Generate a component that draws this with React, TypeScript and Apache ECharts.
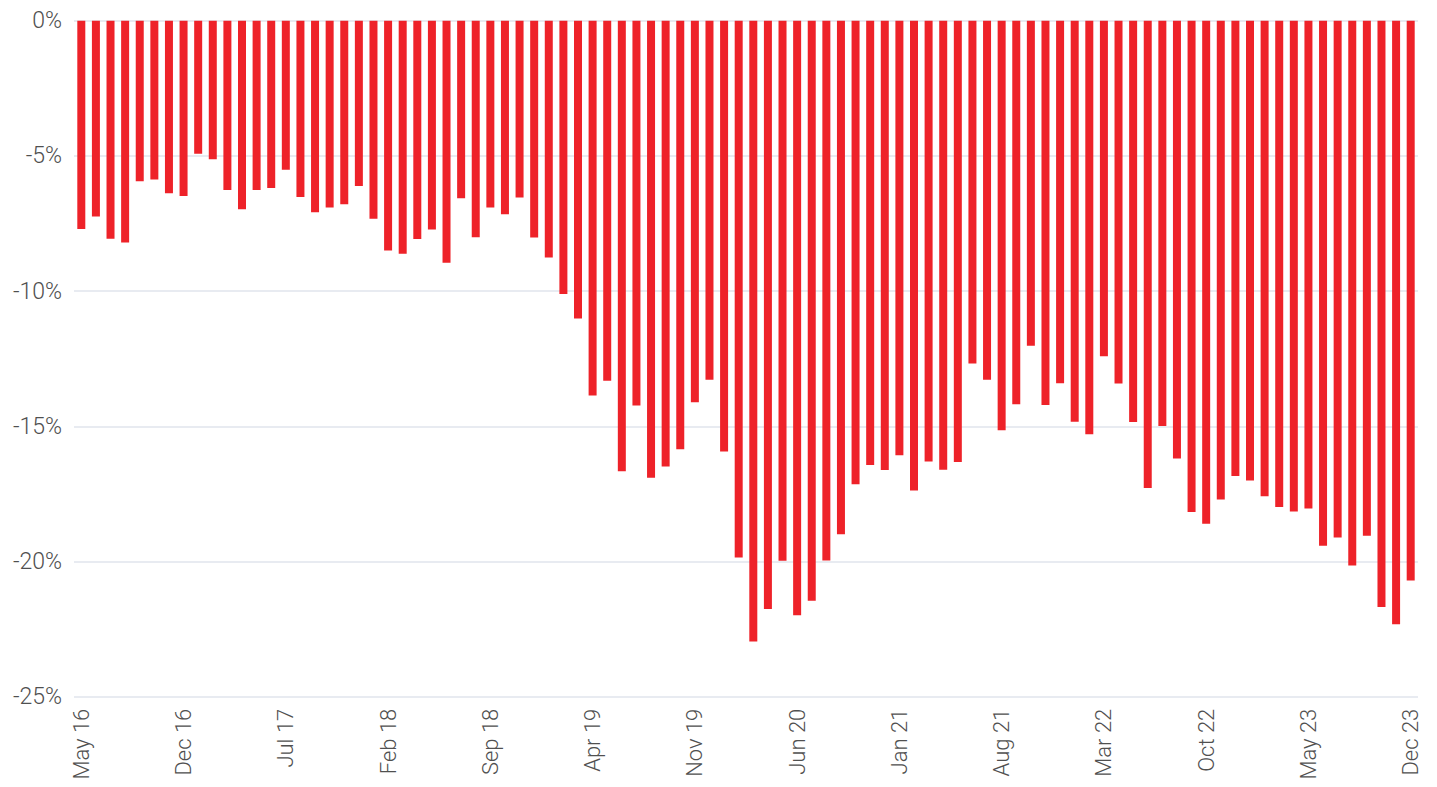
import React, { useEffect, useRef } from "react";
import * as echarts from "echarts";

const months = ["Jan", "Feb", "Mar", "Apr", "May", "Jun", "Jul", "Aug", "Sep", "Oct", "Nov", "Dec"];
const categories: string[] = [];
for (let y = 2016; y <= 2023; y++) {
  for (let m = 0; m < 12; m++) {
    if (y === 2016 && m < 4) continue;
    categories.push(`${months[m]} ${String(y).slice(2)}`);
  }
}

const values = [
  -7.70, -7.24, -8.06, -8.20, -5.94, -5.87, -6.38, -6.48, -4.92, -5.12,
  -6.26, -6.97, -6.26, -6.19, -5.51, -6.52, -7.08, -6.91, -6.79, -6.11,
  -7.32, -8.50, -8.62, -8.07, -7.72, -8.95, -6.57, -8.01, -6.91, -7.16,
  -6.54, -8.02, -8.76, -10.11, -11.01, -13.86, -13.32, -16.66, -14.23, -16.90,
  -16.49, -15.85, -14.11, -13.28, -15.93, -19.85, -22.96, -21.76, -19.97, -21.99,
  -21.45, -19.96, -18.99, -17.14, -16.43, -16.62, -16.07, -17.37, -16.30, -16.61,
  -16.32, -12.68, -13.28, -15.15, -14.18, -12.02, -14.21, -13.41, -14.83, -15.29,
  -12.41, -13.42, -14.84, -17.28, -14.99, -16.19, -18.17, -18.60, -17.71, -16.84,
  -17.00, -17.59, -17.98, -18.15, -18.04, -19.42, -19.11, -20.15, -19.05, -21.68,
  -22.32, -20.70,
];

const yTicks = [0, -5, -10, -15, -20, -25];

export default function App() {
  const ref = useRef<HTMLDivElement>(null);
  useEffect(() => {
    if (!ref.current) return;
    const chart = echarts.init(ref.current, undefined, { renderer: "svg" });
    chart.setOption({
      animation: false,
      grid: { left: 74, right: 19, top: 20.7, bottom: 90.3, containLabel: false },
      xAxis: {
        type: "category",
        data: categories,
        boundaryGap: true,
        position: "bottom",
        axisLine: { show: false, onZero: false },
        axisTick: { show: false },
        axisLabel: {
          interval: 6,
          rotate: 90,
          margin: 12,
          color: "#505050",
          fontFamily: "Roboto",
          fontWeight: 300,
          fontSize: 22,
        },
        splitLine: { show: false },
      },
      yAxis: {
        type: "value",
        min: yTicks[yTicks.length - 1],
        max: yTicks[0],
        interval: 5,
        axisLine: { show: false },
        axisTick: { show: false },
        axisLabel: {
          formatter: (v: number) => `${v}%`,
          color: "#505050",
          fontFamily: "Roboto",
          fontWeight: 300,
          fontSize: 23,
          margin: 12,
        },
        splitLine: { show: true, lineStyle: { color: "#E1E5EC", width: 1.5 } },
      },
      series: [
        {
          type: "bar",
          data: values,
          barWidth: 8,
          itemStyle: { color: "#EE2229" },
        },
      ],
    });
    return () => chart.dispose();
  }, []);
  return (
    <div
      ref={ref}
      style={{ position: "fixed", left: 0, top: 0, width: 1437, height: 787, background: "#fff" }}
    />
  );
}
